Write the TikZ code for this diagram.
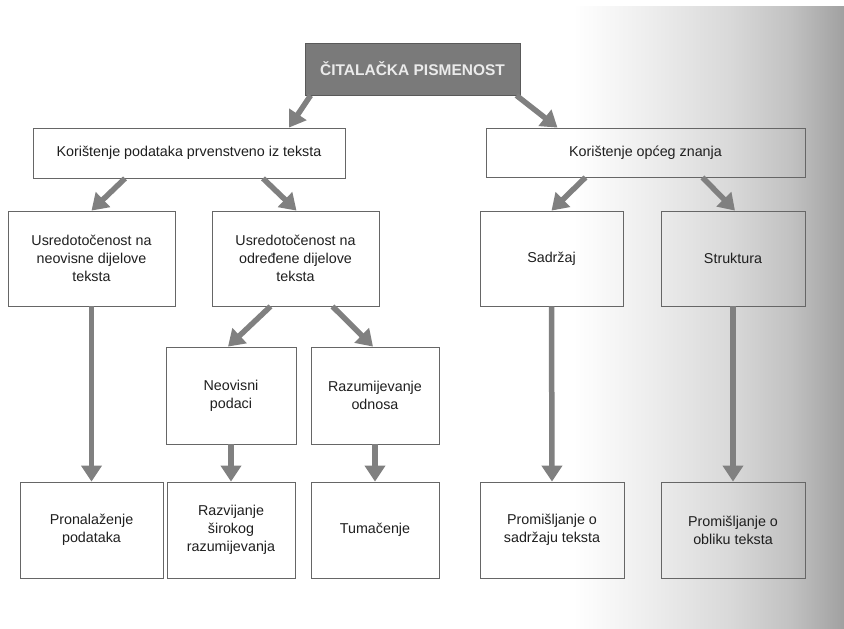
\documentclass[tikz,border=0pt]{standalone}
\usepackage{fontspec}
\setmainfont{Liberation Sans}
\usetikzlibrary{arrows.meta}
\begin{document}
\begin{tikzpicture}[x=1pt,y=-1pt,
  box/.style={draw=black!60, line width=0.8pt, align=center, text=black!88,
    font=\fontsize{14.3}{18}\selectfont, inner sep=2pt},
  titlebox/.style={draw=black!65, line width=0.8pt, fill=black!52, text=black!8,
    font=\bfseries\fontsize{15.5}{18}\selectfont},
  arr/.style={draw=black!50, line width=5.5pt, -{Triangle[width=20pt,length=16pt]}}
]
\useasboundingbox (0,0) rectangle (844,629);
\fill[white] (0,0) rectangle (844,629);
\shade[left color=white, right color=black!7] (573,6) rectangle (650.5,629);
\shade[left color=black!7, right color=black!15] (650,6) rectangle (730.5,629);
\shade[left color=black!15, right color=black!24] (730,6) rectangle (790.5,629);
\shade[left color=black!24, right color=black!37] (790,6) rectangle (844,629);

\node[titlebox, minimum width=215pt, minimum height=52pt] (t) at (412.5,69) {ČITALAČKA PISMENOST};

\node[box, minimum width=312pt, minimum height=50pt] (k1) at (189,153) {Korištenje podataka prvenstveno iz teksta};
\node[box, minimum width=319pt, minimum height=49pt] (k2) at (645.5,152.5) {Korištenje općeg znanja};

\node[box, minimum width=167pt, minimum height=95pt] (u1) at (91.5,258.5) {Usredotočenost na\\neovisne dijelove\\teksta};
\node[box, minimum width=167pt, minimum height=95pt] (u2) at (295.5,258.5) {Usredotočenost na\\određene dijelove\\teksta};
\node[box, minimum width=143pt, minimum height=95pt] (s1) at (551.5,258.5) {Sadržaj};
\node[box, minimum width=144pt, minimum height=95pt] (s2) at (733,258.5) {Struktura};

\node[box, minimum width=130pt, minimum height=97pt] (n1) at (231,395.5) {Neovisni\\podaci};
\node[box, minimum width=128pt, minimum height=97pt] (n2) at (375,395.5) {Razumijevanje\\odnosa};

\node[box, minimum width=143pt, minimum height=96pt] (l1) at (91.5,530) {Pronalaženje\\podataka};
\node[box, minimum width=128pt, minimum height=96pt] (l2) at (231,530) {Razvijanje\\širokog\\razumijevanja};
\node[box, minimum width=128pt, minimum height=96pt] (l3) at (375,530) {Tumačenje};
\node[box, minimum width=144pt, minimum height=96pt] (l4) at (552,530) {Promišljanje o\\sadržaju teksta};
\node[box, minimum width=144pt, minimum height=96pt] (l5) at (733,530) {Promišljanje o\\obliku teksta};

\draw[arr] ([xshift=6pt]t.south west) -- ([xshift=100pt]k1.north);
\draw[arr] ([xshift=-4pt]t.south east) -- ([xshift=-88pt]k2.north);

\draw[arr] ([xshift=-64pt]k1.south) -- ([xshift=0pt]u1.north);
\draw[arr] ([xshift=74pt]k1.south) -- ([xshift=1pt]u2.north);
\draw[arr] ([xshift=-60pt]k2.south) -- ([xshift=0pt]s1.north);
\draw[arr] ([xshift=57pt]k2.south) -- ([xshift=2pt]s2.north);

\draw[arr] ([xshift=-25pt]u2.south) -- ([xshift=-3pt]n1.north);
\draw[arr] ([xshift=37pt]u2.south) -- ([xshift=-2pt]n2.north);

\draw[arr] (u1.south) -- (l1.north);
\draw[arr] (n1.south) -- (l2.north);
\draw[arr] (n2.south) -- (l3.north);
\draw[arr] (s1.south) -- (l4.north);
\draw[arr] (s2.south) -- (l5.north);
\end{tikzpicture}
\end{document}
